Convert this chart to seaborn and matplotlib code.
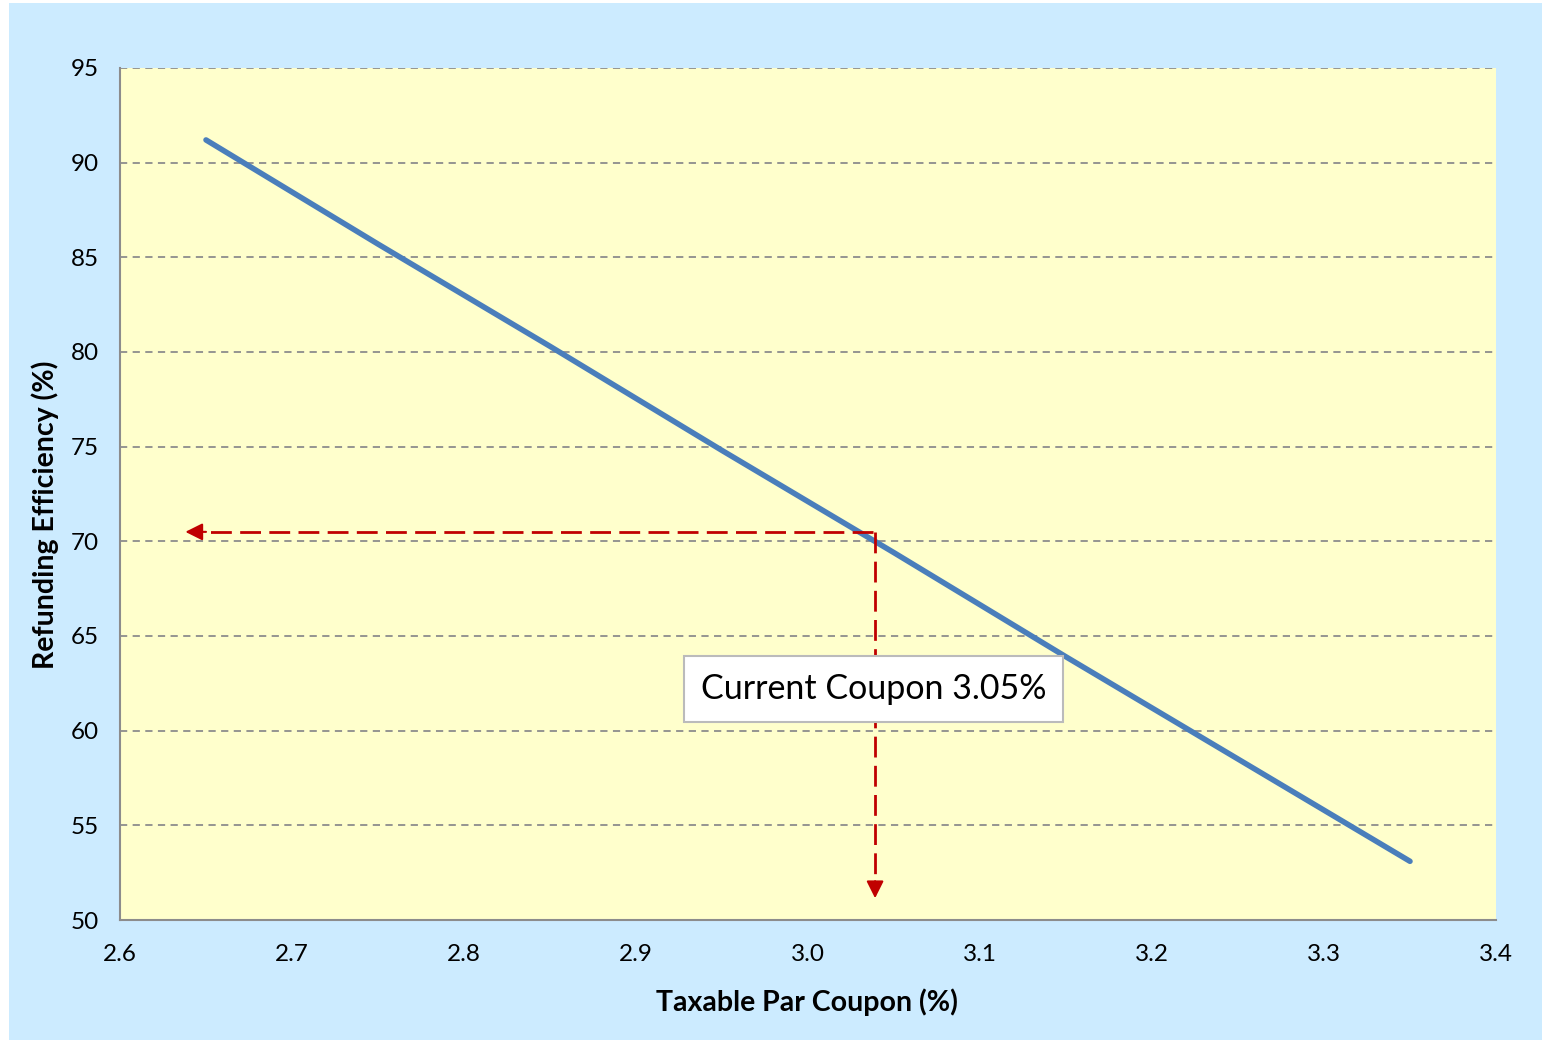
import numpy as np
import pandas as pd
import matplotlib
matplotlib.use("Agg")
import matplotlib.pyplot as plt
import seaborn as sns
from matplotlib.patches import Rectangle

# data
coupon = [2.65, 2.75, 2.85, 2.95, 3.05, 3.15, 3.25, 3.35]
efficiency = [91.2, 85.7, 80.3, 74.8, 69.4, 63.9, 58.5, 53.1]
x_ticks = [2.6, 2.7, 2.8, 2.9, 3.0, 3.1, 3.2, 3.3, 3.4]
y_ticks = [50, 55, 60, 65, 70, 75, 80, 85, 90, 95]

# marker for current coupon
current_x = 3.038
current_y = 70.5
arrow_left_x = 2.638
arrow_down_y = 51.15
box_text = "Current Coupon 3.05%"
box_y = 62.2

sns.set_style("white")
plt.rcParams['font.family'] = ['Lato', 'DejaVu Sans']
plt.rcParams['text.color'] = 'black'
plt.rcParams['axes.labelcolor'] = 'black'

fig = plt.figure(figsize=(15.42, 10.40), dpi=100, facecolor="white")
# light blue chart area
fig.patches.append(Rectangle((9 / 1542, 0), 1 - 9 / 1542, 1 - 3 / 1040,
                             transform=fig.transFigure, facecolor="#CCEBFF",
                             edgecolor="none", zorder=-10))
ax = fig.add_axes([120 / 1542, 1 - 920 / 1040, 1376 / 1542, 852 / 1040])
ax.set_facecolor("#FFFFCC")

df = pd.DataFrame({"coupon": coupon, "efficiency": efficiency})
sns.lineplot(data=df, x="coupon", y="efficiency", ax=ax, color="#4A7EBB",
             linewidth=4, solid_capstyle="round", zorder=3)

ax.set_xlim(2.6, 3.4)
ax.set_ylim(50, 95)
ax.set_xticks(x_ticks)
ax.set_yticks(y_ticks)
ax.set_xticklabels([f"{v:.1f}" for v in x_ticks])
ax.set_yticklabels([str(v) for v in y_ticks])
ax.yaxis.grid(True, linestyle=(0, (4, 3)), color="#8C8C8C", linewidth=1.3)
ax.set_axisbelow(True)

for s in ["top", "right"]:
    ax.spines[s].set_visible(False)
for s in ["left", "bottom"]:
    ax.spines[s].set_color("#8C8C8C")
    ax.spines[s].set_linewidth(1.5)
ax.tick_params(axis="both", direction="out", length=7, width=1.5,
               color="#8C8C8C", labelsize=17.5, labelcolor="black", pad=8)
ax.tick_params(axis="x", pad=10)

ax.set_xlabel("Taxable Par Coupon (%)", fontsize=20.5, fontweight="bold", va="center")
ax.set_ylabel("Refunding Efficiency (%)", fontsize=20.5, fontweight="bold", va="center")
ax.xaxis.set_label_coords(0.499, -0.096)
ax.yaxis.set_label_coords(-0.0545, 0.475)

# red dashed guides with arrow heads
red = "#C00000"
dash = (0, (7.5, 3))
ax.plot([current_x, arrow_left_x + 0.01], [current_y, current_y], color=red,
        linewidth=2, linestyle=dash, zorder=4)
ax.annotate("", xy=(arrow_left_x, current_y), xytext=(arrow_left_x + 0.012, current_y),
            arrowprops=dict(arrowstyle="-|>", color=red, lw=1.5,
                            mutation_scale=26, shrinkA=0, shrinkB=0), zorder=4)
ax.plot([current_x + 0.001, current_x + 0.001], [current_y, arrow_down_y + 0.6],
        color=red, linewidth=2, linestyle=dash, zorder=4)
ax.annotate("", xy=(current_x + 0.001, arrow_down_y),
            xytext=(current_x + 0.001, arrow_down_y + 0.9),
            arrowprops=dict(arrowstyle="-|>", color=red, lw=1.5,
                            mutation_scale=26, shrinkA=0, shrinkB=0), zorder=4)

ax.text(current_x, box_y, box_text, fontsize=24.5, ha="center", va="center",
        color="black", zorder=5,
        bbox=dict(boxstyle="square,pad=0.5", facecolor="white",
                  edgecolor="#BBBBBB", linewidth=1.5))

fig.savefig("out.png", dpi=100, facecolor=fig.get_facecolor())
